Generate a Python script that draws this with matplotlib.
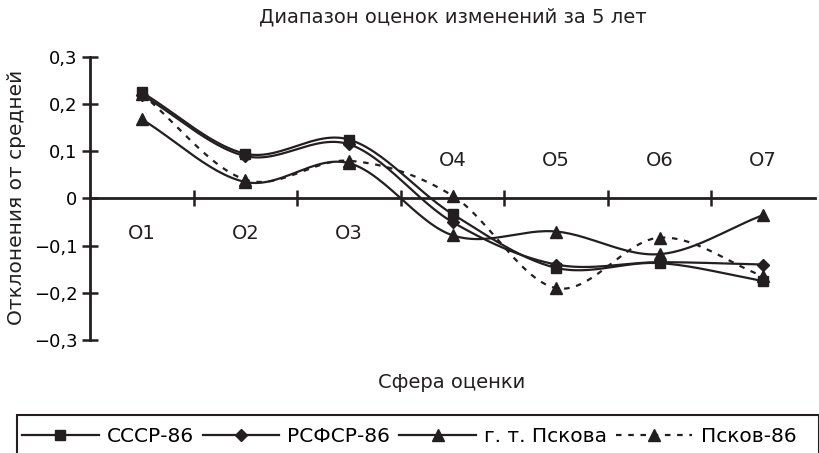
import matplotlib.pyplot as plt
import numpy as np
from matplotlib.patches import Rectangle

plt.rcParams['font.family'] = ['DejaVu Sans']

categories = ['O1', 'O2', 'O3', 'O4', 'O5', 'O6', 'O7']
sssr = [0.225, 0.095, 0.125, -0.033, -0.147, -0.137, -0.175]
rsfsr = [0.220, 0.090, 0.115, -0.050, -0.140, -0.135, -0.140]
pskov_city = [0.168, 0.035, 0.075, -0.078, -0.070, -0.118, -0.035]
pskov86 = [0.222, 0.040, 0.080, 0.006, -0.190, -0.083, -0.165]
yticks = [-0.3, -0.2, -0.1, 0, 0.1, 0.2, 0.3]
ytick_labels = ['\u22120,3', '\u22120,2', '\u22120,1', '0', '0,1', '0,2', '0,3']

INK = '#231f20'


def smooth(x, y, n=30):
    # Catmull-Rom spline, close to Excel's smoothed lines
    x = np.asarray(x, float)
    y = np.asarray(y, float)
    px = np.concatenate([[2 * x[0] - x[1]], x, [2 * x[-1] - x[-2]]])
    py = np.concatenate([[2 * y[0] - y[1]], y, [2 * y[-1] - y[-2]]])
    xs, ys = [], []
    t = np.linspace(0, 1, n)
    for i in range(1, len(px) - 2):
        for arr, out in ((px, xs), (py, ys)):
            p0, p1, p2, p3 = arr[i - 1], arr[i], arr[i + 1], arr[i + 2]
            out.append(0.5 * ((2 * p1) + (-p0 + p2) * t
                              + (2 * p0 - 5 * p1 + 4 * p2 - p3) * t ** 2
                              + (-p0 + 3 * p1 - 3 * p2 + p3) * t ** 3))
    return np.concatenate(xs), np.concatenate(ys)


fig = plt.figure(figsize=(8.19, 4.53), dpi=100)
ax = fig.add_axes([90 / 819, 1 - 340 / 453, 725 / 819, 283 / 453])

x = np.arange(len(categories))
series = [
    ('СССР-86', sssr, 's', '-', 7),
    ('РСФСР-86', rsfsr, 'D', '-', 6),
    ('г. т. Пскова', pskov_city, '^', '-', 8),
    ('Псков-86', pskov86, '^', (0, (2.5, 3)), 8),
]
handles = []
for name, vals, mk, ls, ms in series:
    sx, sy = smooth(x, vals)
    ax.plot(sx, sy, color=INK, lw=1.6, ls=ls)
    ax.plot(x, vals, ls='none', marker=mk, ms=ms, color=INK)
    h, = ax.plot([], [], color=INK, lw=1.6, ls=ls, marker=mk, ms=ms)
    handles.append(h)

ax.set_xlim(-0.5, 6.5)
ax.set_ylim(-0.3, 0.3)
ax.set_yticks(yticks)
ax.set_yticklabels(ytick_labels, fontsize=13)
ax.set_xticks(np.arange(0.5, 6.5, 1))
ax.set_xticklabels([])

for s in ['top', 'right']:
    ax.spines[s].set_visible(False)
ax.spines['bottom'].set_position(('data', 0))
for s in ['left', 'bottom']:
    ax.spines[s].set_linewidth(2)
    ax.spines[s].set_color(INK)
ax.tick_params(axis='both', direction='inout', length=12, width=1.8, color=INK)
ax.tick_params(axis='y', pad=3)

for i, c in enumerate(categories):
    yy = -0.074 if i < 3 else 0.081
    ax.text(i, yy, c, ha='center', va='center', fontsize=14, color=INK)

fig.text(453 / 819, 1 - 17 / 453, 'Диапазон оценок изменений за 5 лет',
         ha='center', va='center', fontsize=14, color=INK)
fig.text(452 / 819, 1 - 382 / 453, 'Сфера оценки',
         ha='center', va='center', fontsize=14, color=INK)
fig.text(17 / 819, 1 - 197 / 453, 'Отклонения от средней', rotation=90,
         ha='center', va='center', fontsize=14.5, color=INK)

fig.add_artist(Rectangle((17 / 819, -0.05), 802 / 819, 0.05 + 1 - 415 / 453,
                         transform=fig.transFigure, fill=False,
                         edgecolor=INK, lw=1.5))
leg = fig.legend(handles, [s[0] for s in series], loc='center left',
                 bbox_to_anchor=(22 / 819, 1 - 437 / 453),
                 ncol=4, fontsize=14.5, frameon=False,
                 handlelength=3.8, handletextpad=0.4, columnspacing=0.45,
                 borderpad=0, borderaxespad=0)

fig.savefig('out.png', dpi=100)
